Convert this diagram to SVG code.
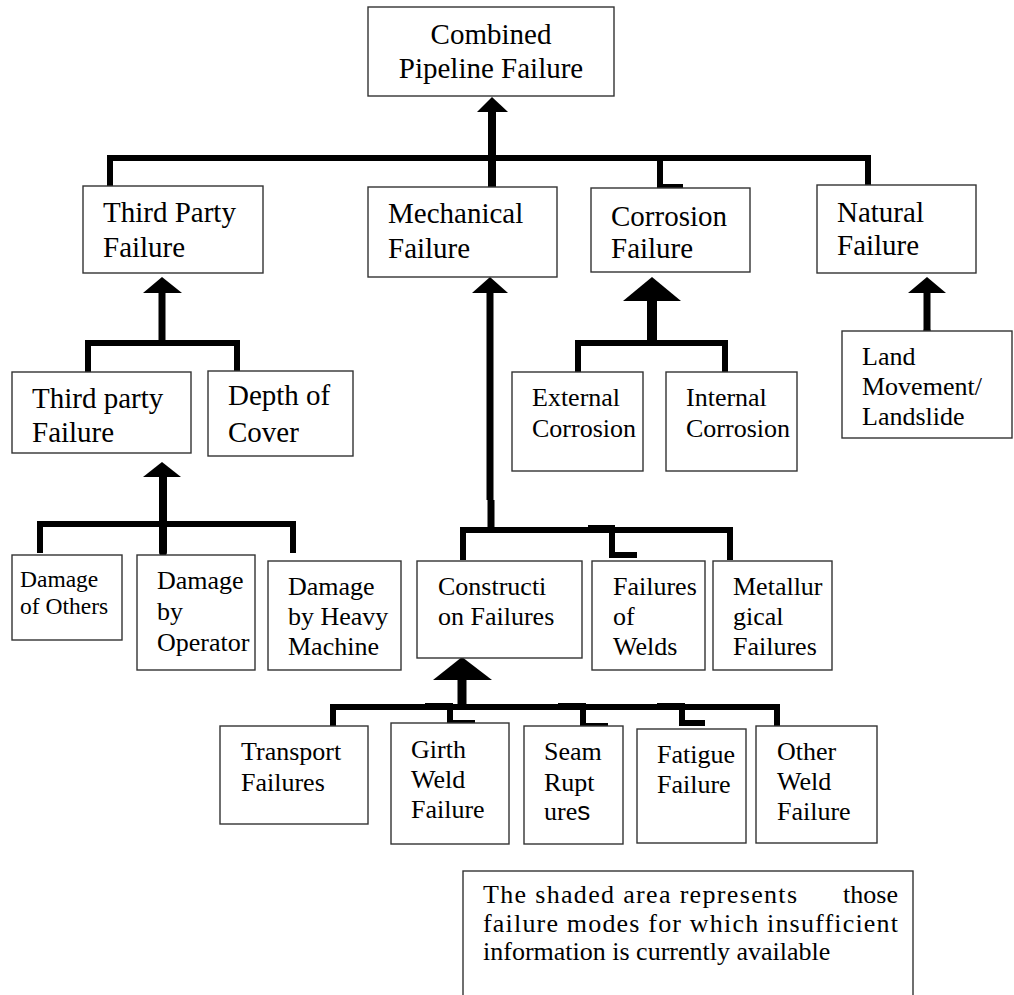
<svg xmlns="http://www.w3.org/2000/svg" width="1014" height="995" viewBox="0 0 1014 995">
<style>
.box{fill:#fff;stroke:#333;stroke-width:1.4}
.l29{font-size:29px}
.l26{font-size:26px}
.l24{font-size:23.5px}
.c{fill:none;stroke:#000;stroke-width:6;stroke-linejoin:miter;stroke-linecap:butt}
.s{fill:none;stroke:#000;stroke-linecap:butt}
.ah{fill:#000;stroke:none}
</style>
<rect width="1014" height="995" fill="#fff"/>
<g id="connectors">
  <path class="c" d="M110,187 V158 H868 V186" stroke-width="7"/>
  <path class="c" d="M660,158 V187 H683"/>
  <path class="s" d="M492,110 V188" stroke-width="8"/>
  <polygon class="ah" points="477,112 492,97 508,112"/>
  <polygon class="ah" points="143,293 162,277 182,293"/>
  <path class="s" d="M162,292 V343" stroke-width="7"/>
  <path class="c" d="M88,372 V343 H237 V372"/>
  <polygon class="ah" points="143,477 162,462 181,477"/>
  <path class="s" d="M163,476 V552" stroke-width="8"/>
  <circle cx="163" cy="552" r="4" fill="#000"/>
  <path class="c" d="M40,553 V524 H293 V553"/>
  <polygon class="ah" points="472,293 490,277 508,293"/>
  <path class="s" d="M490,292 V500 M491,500 V530" stroke-width="7"/>
  <path class="c" d="M463,560 V530 H730 V560"/>
  <path class="c" d="M588,528 H612 V555 H637"/>
  <polygon class="ah" points="623,301 652,277 681,301"/>
  <path class="s" d="M652,300 V340" stroke-width="10"/>
  <path class="c" d="M578,372 V343 H725 V372"/>
  <polygon class="ah" points="908,293 927,277 946,293"/>
  <path class="s" d="M927,292 V331" stroke-width="7"/>
  <circle cx="927" cy="331" r="3.5" fill="#000"/>
  <polygon class="ah" points="433,680 462,657 492,680"/>
  <path class="s" d="M462,679 V707" stroke-width="9"/>
  <path class="c" d="M333,727 V707 H777 V727"/>
  <path class="c" d="M425,706 H450 V723 H475"/>
  <path class="c" d="M558,706 H583 V726 H608"/>
  <path class="c" d="M657,706 H682 V723 H705"/>
</g>
<g font-family="'Liberation Serif','Times New Roman',serif" fill="#000">
<g id="combined">
  <rect class="box" x="368" y="7" width="246" height="89"/>
  <text class="l29" x="491" y="44" text-anchor="middle">Combined</text>
  <text class="l29" x="491" y="78" text-anchor="middle">Pipeline Failure</text>
</g>
<g id="third-party">
  <rect class="box" x="83" y="186" width="180" height="87"/>
  <text class="l29" x="103" y="222">Third Party</text>
  <text class="l29" x="103" y="257">Failure</text>
</g>
<g id="mechanical">
  <rect class="box" x="368" y="187" width="189" height="90"/>
  <text class="l29" x="388" y="223">Mechanical</text>
  <text class="l29" x="388" y="258">Failure</text>
</g>
<g id="corrosion">
  <rect class="box" x="591" y="188" width="159" height="84"/>
  <text class="l29" x="611" y="226">Corrosion</text>
  <text class="l29" x="611" y="258">Failure</text>
</g>
<g id="natural">
  <rect class="box" x="817" y="185" width="159" height="88"/>
  <text class="l29" x="837" y="222">Natural</text>
  <text class="l29" x="837" y="255">Failure</text>
</g>
<g id="third-party-sub">
  <rect class="box" x="12" y="372" width="179" height="81"/>
  <text class="l29" x="32" y="408">Third party</text>
  <text class="l29" x="32" y="442">Failure</text>
</g>
<g id="depth-of-cover">
  <rect class="box" x="208" y="371" width="145" height="85"/>
  <text class="l29" x="228" y="405">Depth of</text>
  <text class="l29" x="228" y="442">Cover</text>
</g>
<g id="external-corrosion">
  <rect class="box" x="512" y="372" width="131" height="99"/>
  <text class="l26" x="532" y="406">External</text>
  <text class="l26" x="532" y="437">Corrosion</text>
</g>
<g id="internal-corrosion">
  <rect class="box" x="666" y="372" width="131" height="99"/>
  <text class="l26" x="686" y="406">Internal</text>
  <text class="l26" x="686" y="437">Corrosion</text>
</g>
<g id="land-movement">
  <rect class="box" x="842" y="331" width="170" height="107"/>
  <text class="l26" x="862" y="365">Land</text>
  <text class="l26" x="862" y="395">Movement/</text>
  <text class="l26" x="862" y="425">Landslide</text>
</g>
<g id="damage-others">
  <rect class="box" x="12" y="555" width="110" height="85"/>
  <text class="l24" x="20" y="587">Damage</text>
  <text class="l24" x="20" y="614">of Others</text>
</g>
<g id="damage-operator">
  <rect class="box" x="137" y="555" width="118" height="115"/>
  <text class="l26" x="157" y="589">Damage</text>
  <text class="l26" x="157" y="620">by</text>
  <text class="l26" x="157" y="651">Operator</text>
</g>
<g id="damage-heavy">
  <rect class="box" x="268" y="561" width="133" height="109"/>
  <text class="l26" x="288" y="595">Damage</text>
  <text class="l26" x="288" y="625">by Heavy</text>
  <text class="l26" x="288" y="655">Machine</text>
</g>
<g id="construction">
  <rect class="box" x="417" y="561" width="165" height="97"/>
  <text class="l26" x="438" y="595">Constructi</text>
  <text class="l26" x="438" y="625">on Failures</text>
</g>
<g id="welds">
  <rect class="box" x="592" y="561" width="113" height="109"/>
  <text class="l26" x="613" y="595">Failures</text>
  <text class="l26" x="613" y="625">of</text>
  <text class="l26" x="613" y="655">Welds</text>
</g>
<g id="metallurgical">
  <rect class="box" x="713" y="561" width="119" height="109"/>
  <text class="l26" x="733" y="595">Metallur</text>
  <text class="l26" x="733" y="625">gical</text>
  <text class="l26" x="733" y="655">Failures</text>
</g>
<g id="transport">
  <rect class="box" x="220" y="726" width="148" height="98"/>
  <text class="l26" x="241" y="760">Transport</text>
  <text class="l26" x="241" y="791">Failures</text>
</g>
<g id="girth">
  <rect class="box" x="391" y="723" width="118" height="121"/>
  <text class="l26" x="411" y="758">Girth</text>
  <text class="l26" x="411" y="788">Weld</text>
  <text class="l26" x="411" y="818">Failure</text>
</g>
<g id="seam">
  <rect class="box" x="524" y="726" width="99" height="118"/>
  <text class="l26" x="544" y="760">Seam</text>
  <text class="l26" x="544" y="791">Rupt</text>
  <text class="l26" x="544" y="820">ure<tspan font-family="'Liberation Sans',Arial,sans-serif">s</tspan></text>
</g>
<g id="fatigue">
  <rect class="box" x="637" y="729" width="109" height="114"/>
  <text class="l26" x="657" y="763">Fatigue</text>
  <text class="l26" x="657" y="793">Failure</text>
</g>
<g id="other-weld">
  <rect class="box" x="756" y="726" width="121" height="117"/>
  <text class="l26" x="777" y="760">Other</text>
  <text class="l26" x="777" y="790">Weld</text>
  <text class="l26" x="777" y="820">Failure</text>
</g>
<g id="note">
  <rect class="box" x="463" y="871" width="450" height="140" stroke-width="1.8"/>
  <text class="l26" x="483" y="903" textLength="314" lengthAdjust="spacing">The shaded area represents</text>
  <text class="l26" x="898" y="903" text-anchor="end">those</text>
  <text class="l26" x="483" y="932" textLength="415" lengthAdjust="spacing">failure modes for which insufficient</text>
  <text class="l26" x="483" y="960">information is currently available</text>
</g>
</g>
</svg>
